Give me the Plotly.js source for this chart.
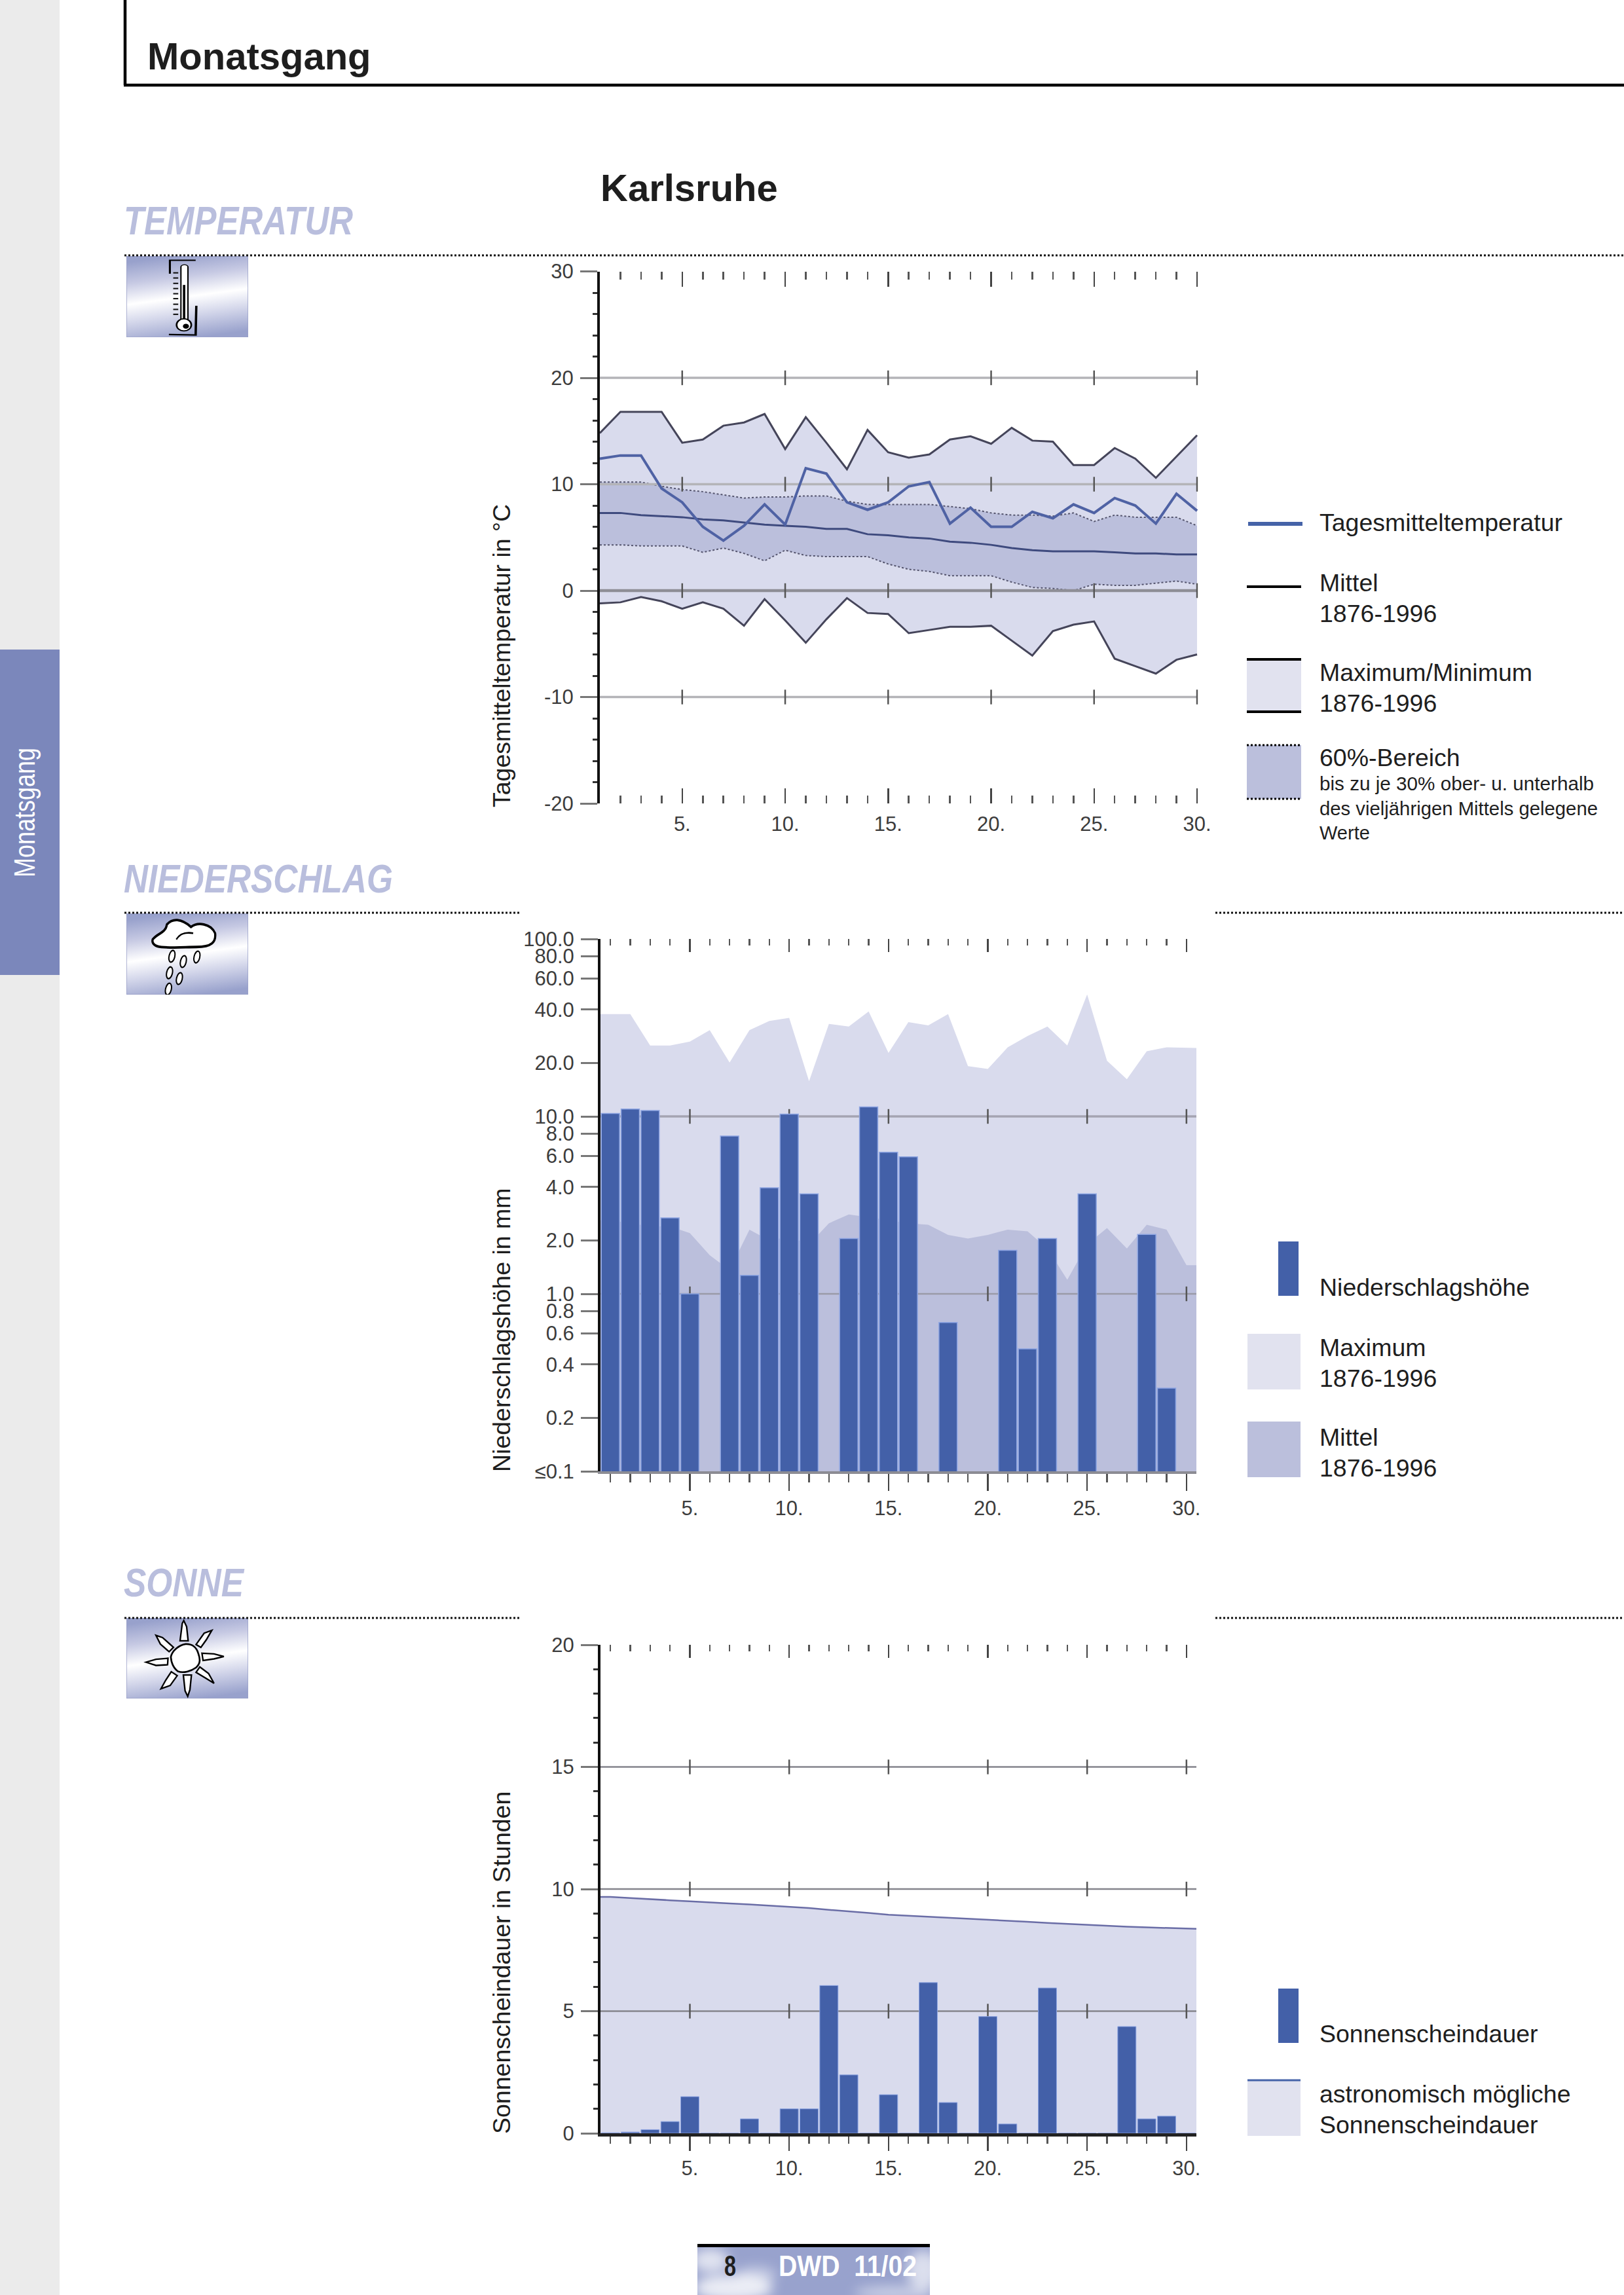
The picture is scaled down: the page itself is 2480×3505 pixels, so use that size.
<!DOCTYPE html>
<html>
<head>
<meta charset="utf-8">
<script src="https://cdn.plot.ly/plotly-3.0.1.min.js"></script>
<style>html,body{margin:0;padding:0;background:#fff}</style>
</head>
<body>
<div id="chart" style="width:2480px;height:3505px"></div>
<script>
// ---------- data ----------
const days = [1,2,3,4,5,6,7,8,9,10,11,12,13,14,15,16,17,18,19,20,21,22,23,24,25,26,27,28,29,30];

const tempDaily = [12.4,12.7,12.7,9.6,8.3,6.0,4.7,6.1,8.1,6.2,11.5,11.0,8.3,7.6,8.3,9.8,10.2,6.3,7.8,6.0,6.0,7.4,6.8,8.1,7.3,8.7,8.0,6.3,9.1,7.5];
const tempMean  = [7.3,7.3,7.1,7.0,6.9,6.7,6.6,6.4,6.2,6.1,6.0,5.8,5.8,5.3,5.2,5.0,4.9,4.6,4.5,4.3,4.0,3.8,3.7,3.7,3.7,3.6,3.5,3.5,3.4,3.4];
const tempMax   = [14.8,16.8,16.8,16.8,13.9,14.2,15.5,15.8,16.6,13.3,16.3,13.9,11.4,15.1,13.0,12.5,12.8,14.2,14.5,13.8,15.3,14.1,14.0,11.8,11.8,13.4,12.4,10.6,12.6,14.6];
const tempMin   = [-1.2,-1.1,-0.6,-1.0,-1.7,-1.1,-1.7,-3.3,-0.8,-2.8,-4.9,-2.7,-0.7,-2.1,-2.2,-4.0,-3.7,-3.4,-3.4,-3.3,-4.7,-6.1,-3.8,-3.2,-2.9,-6.4,-7.1,-7.8,-6.5,-6.0];
const tempUpper = [10.2,10.2,10.2,9.8,9.5,9.3,9.0,8.7,8.8,8.8,8.9,8.9,8.4,8.1,8.1,8.1,8.1,7.9,7.7,7.3,7.1,7.1,7.0,7.3,6.5,7.1,6.9,6.9,6.9,6.1];
const tempLower = [4.3,4.3,4.2,4.2,4.2,3.6,4.0,3.5,2.8,3.8,3.3,3.2,3.2,3.2,2.5,2.0,1.8,1.4,1.4,1.4,0.8,0.3,0.2,0.0,0.6,0.5,0.5,0.7,0.9,0.6];

const rainDaily = [10.4,11.0,10.8,2.68,1.0,null,7.75,1.27,3.96,10.3,3.66,null,2.05,11.3,6.28,5.92,null,0.69,null,null,1.76,0.49,2.05,null,3.66,null,null,2.16,0.294,null];
const rainMax   = [37.7,37.7,25.1,25.1,26.4,30.6,20.1,30.6,34.5,35.9,15.8,33.2,32.1,39,22.8,34,32.6,37.7,19.2,18.5,24.5,28.4,32.1,25.1,48.7,20.6,16.2,23.3,24.5,24.3];
const rainMean  = [2.6,2.5,2.4,2.4,2.2,1.65,1.36,2.3,2.0,2.1,1.9,2.5,2.8,2.7,2.6,2.5,2.45,2.15,2.05,2.15,2.3,2.25,1.8,1.2,1.9,2.35,1.8,2.45,2.3,1.45];

const sunDaily = [0.02,0.05,0.15,0.48,1.5,0,0,0.59,0,1.0,1.0,6.05,2.39,0,1.58,0,6.17,1.26,0,4.78,0.38,0,5.95,0,0,0,4.37,0.59,0.7,0];
const sunAstro = [9.68,9.63,9.58,9.54,9.50,9.45,9.41,9.37,9.32,9.28,9.22,9.15,9.09,9.02,8.95,8.91,8.87,8.83,8.78,8.74,8.70,8.66,8.61,8.57,8.52,8.49,8.46,8.43,8.40,8.37];

const tempTickVals = [-20,-10,0,10,20,30];
const tempTickText = ['-20','-10','0','10','20','30'];
const rainTickVals = [0.1,0.2,0.4,0.6,0.8,1,2,4,6,8,10,20,40,60,80,100];
const rainTickText = ['≤0.1','0.2','0.4','0.6','0.8','1.0','2.0','4.0','6.0','8.0','10.0','20.0','40.0','60.0','80.0','100.0'];
const sunTickVals = [0,5,10,15,20];
const gridDays = [5,10,15,20,25,30];

// ---------- helpers ----------
const W = 2480, H = 3505;
const FONT = 'Liberation Sans, Arial, sans-serif';
const BAR = '#4360a8', BARHALO = '#8ea5e2', LIGHT = '#d9dbed', MID = '#bbbfdc';
const xd = (a,b) => [a/W, b/W];
const yd = (t,b) => [1-b/H, 1-t/H];
const px = v => v/W, py = v => 1-v/H;

const edgeDays = [0.5].concat(days, [30.5]);
const edged = a => [a[0]].concat(a, [a[a.length-1]]);

// ---------- traces ----------
const data = [];
function line(x, y, xa, ya, color, width, extra) {
  data.push(Object.assign({type:'scatter', mode:'lines', x, y, xaxis:xa, yaxis:ya, hoverinfo:'skip', showlegend:false,
    line:{color, width, dash:(extra&&extra.dash)||'solid', shape:'linear'}}, extra&&extra.fill?{fill:extra.fill, fillcolor:extra.fillcolor}:{}));
}
function gridLevels(levels, xRange, xa, ya, color, width, tickColor) {
  levels.forEach(l => {
    line(xRange, xRange.map(() => l), xa, ya, color, width);
    data.push({type:'scatter', mode:'markers', x:gridDays, y:gridDays.map(() => l), xaxis:xa, yaxis:ya, hoverinfo:'skip', showlegend:false,
      marker:{symbol:'line-ns', size:16, line:{width:2.5, color:tickColor}}});
  });
}

// chart 1 – temperature
line(days, tempMin, 'x', 'y', '#45455a', 3);
line(days, tempMax, 'x', 'y', '#45455a', 3, {fill:'tonexty', fillcolor:LIGHT});
line(days, tempLower, 'x', 'y', '#55556e', 2, {dash:'dot'});
line(days, tempUpper, 'x', 'y', '#55556e', 2, {dash:'dot', fill:'tonexty', fillcolor:MID});
gridLevels([20,10,-10], [1,30], 'x', 'y', '#b4b4b8', 3.5, '#555');
gridLevels([0], [1,30], 'x', 'y', '#8e8e96', 4.5, '#555');
line(days, tempMean, 'x', 'y', '#3e4a7e', 3);
line(days, tempDaily, 'x', 'y', '#4f62a4', 4);

// chart 2 – precipitation (areas and grid in the base subplot, bars in an overlaid one)
line(edgeDays, edged(rainMax), 'x2', 'y2', 'rgba(0,0,0,0)', 0, {fill:'tozeroy', fillcolor:LIGHT});
line(edgeDays, edged(rainMean), 'x2', 'y2', 'rgba(0,0,0,0)', 0, {fill:'tozeroy', fillcolor:MID});
gridLevels([10], [0.5,30.5], 'x2', 'y2', '#a4a4b2', 3.5, '#555');
gridLevels([1], [0.5,30.5], 'x2', 'y2', '#9a9aa8', 2.5, '#555');
data.push({type:'bar', x:days, y:rainDaily, xaxis:'x5', yaxis:'y5', hoverinfo:'skip', showlegend:false,
  marker:{color:BAR, line:{color:BARHALO, width:1.5}}});

// chart 3 – sunshine
line(edgeDays, edged(sunAstro), 'x3', 'y3', '#6a6da6', 2.5, {fill:'tozeroy', fillcolor:LIGHT});
gridLevels([15,10,5], [0.5,30.5], 'x3', 'y3', '#85858c', 2.5, '#555');
data.push({type:'bar', x:days, y:sunDaily, xaxis:'x6', yaxis:'y6', hoverinfo:'skip', showlegend:false,
  marker:{color:BAR, line:{color:BARHALO, width:1}}});

// ---------- axes ----------
const tickFont = {family:FONT, size:31, color:'#3c3c3c'};
function dayAxis(domain, range, ticks, len, extra) {
  return Object.assign({domain, range, tickmode:'linear', tick0:0, dtick:5, ticks, ticklen:len, tickwidth:2.5, tickcolor:'#444',
    ticksuffix:'.', tickfont:tickFont, showgrid:false, zeroline:false, showline:false, fixedrange:true,
    minor:{dtick:1, tick0:0, ticks, ticklen:Math.round(len*0.5), tickwidth:2.5, tickcolor:'#555', showgrid:false}}, extra||{});
}
function topAxis(domain, range, overlaying, anchor) {
  return dayAxis(domain, range, 'inside', 20, {overlaying, anchor, side:'top', showticklabels:false});
}
function valueAxis(domain, extra) {
  return Object.assign({domain, tickfont:tickFont, ticks:'outside', ticklen:26, tickwidth:3, tickcolor:'#777',
    ticklabelstandoff:4, showgrid:false, zeroline:false, showline:true, linecolor:'#111', linewidth:4, fixedrange:true, layer:'above traces'}, extra);
}
// the temperature x range runs a hair past day 30 so that the day-30 ticks are kept at the edge
const dom1x = xd(916,1829.6), dom2x = xd(917,1827);
const dom1y = yd(414.5,1227), dom2y = yd(1434,2247), dom3y = yd(2512,3258);

const layout = {
  width:W, height:H, autosize:false, margin:{l:0,r:0,t:0,b:0,pad:0},
  paper_bgcolor:'#ffffff', plot_bgcolor:'rgba(0,0,0,0)', showlegend:false, barmode:'overlay', bargap:0.08,
  xaxis: dayAxis(dom1x, [1,30.05], 'inside', 23, {anchor:'y', mirror:'ticks', ticklabelstandoff:10}),
  yaxis: valueAxis(dom1y, {anchor:'x', range:[-20,30], tickmode:'array', tickvals:tempTickVals, ticktext:tempTickText,
    minor:{dtick:2, tick0:0, ticks:'outside', ticklen:7, tickwidth:3, tickcolor:'#333', showgrid:false}}),
  xaxis2: dayAxis(dom2x, [0.5,30.5], 'outside', 26, {anchor:'y2', showline:true, linecolor:'#8c8c94', linewidth:3.5}),
  yaxis2: valueAxis(dom2y, {anchor:'x2', type:'log', range:[-1,2], tickmode:'array', tickvals:rainTickVals, ticktext:rainTickText}),
  xaxis5: topAxis(dom2x, [0.5,30.5], 'x2', 'y5'),
  yaxis5: {domain:dom2y, type:'log', range:[-1,2], overlaying:'y2', anchor:'x5', visible:false, fixedrange:true},
  xaxis3: dayAxis(dom2x, [0.5,30.5], 'outside', 22, {anchor:'y3', showline:true, linecolor:'#222', linewidth:4.5}),
  yaxis3: valueAxis(dom3y, {anchor:'x3', range:[0,20], tickmode:'array', tickvals:sunTickVals, ticktext:sunTickVals.map(String),
    minor:{dtick:1, tick0:0, ticks:'outside', ticklen:7, tickwidth:3, tickcolor:'#333', showgrid:false}}),
  xaxis6: topAxis(dom2x, [0.5,30.5], 'x3', 'y6'),
  yaxis6: {domain:dom3y, range:[0,20], overlaying:'y3', anchor:'x6', visible:false, fixedrange:true},
  shapes:[], annotations:[], images:[]
};

// ---------- page furniture ----------
const fitted = {};   // annotation index -> text length in px (condensed headline type)
function rect(x0,y0,x1,y1,fill) {
  layout.shapes.push({type:'rect', xref:'paper', yref:'paper', x0:px(x0), x1:px(x1), y0:py(y0), y1:py(y1), fillcolor:fill, line:{width:0}, layer:'above'});
}
function rule(x0,y0,x1,y1,color,width,dash) {
  layout.shapes.push({type:'line', xref:'paper', yref:'paper', x0:px(x0), x1:px(x1), y0:py(y0), y1:py(y1), line:{color, width, dash:dash||'solid'}, layer:'above'});
}
function text(str, x, base, size, opt) {
  opt = opt||{};
  if (opt.len) fitted[layout.annotations.length] = opt.len;
  layout.annotations.push({xref:'paper', yref:'paper', x:px(x), y:py(base + 0.212*size), text:str, showarrow:false,
    xanchor:'left', yanchor:'bottom', align:'left', borderpad:0,
    font:{family:FONT, size, color:opt.color||'#1e1e1e', weight:opt.weight||'normal', style:opt.style||'normal'}});
}
function vtext(str, xc, yc, size, opt) {
  opt = opt||{};
  if (opt.len) fitted[layout.annotations.length] = opt.len;
  layout.annotations.push({xref:'paper', yref:'paper', x:px(xc), y:py(yc), text:str, showarrow:false, textangle:-90,
    xanchor:'center', yanchor:'middle', borderpad:0, font:{family:FONT, size, color:opt.color||'#1e1e1e'}});
}
function svgImage(svg, x0,y0,x1,y1) {
  layout.images.push({source:'data:image/svg+xml;charset=utf-8,'+encodeURIComponent(svg), xref:'paper', yref:'paper',
    x:px(x0), y:py(y0), sizex:(x1-x0)/W, sizey:(y1-y0)/H, xanchor:'left', yanchor:'top', sizing:'stretch', layer:'above'});
}

// strip and tab
rect(0,0,91,H,'#ebebeb');
rect(0,992,91,1489,'#7b87bb');
vtext('Monatsgang', 38, 1241, 44, {color:'#ffffff', len:198});

// header frame
rule(191,0,191,130,'#000',4.5);
rule(189,130,W,130,'#000',4.5);
text('Monatsgang', 224, 107, 58, {weight:'bold'});
text('Karlsruhe', 916, 308, 58, {weight:'bold'});

// section headers
const HEAD = '#b9bedd';
text('TEMPERATUR', 188, 359, 62, {weight:'bold', style:'italic', color:HEAD, len:350});
text('NIEDERSCHLAG', 188, 1364, 62, {weight:'bold', style:'italic', color:HEAD, len:411});
text('SONNE', 188, 2439, 62, {weight:'bold', style:'italic', color:HEAD, len:183});
rule(190,390,W,390,'#111',3,'dot');
rule(190,1394,793,1394,'#111',3,'dot');
rule(1856,1394,W,1394,'#111',3,'dot');
rule(190,2471,793,2471,'#111',3,'dot');
rule(1856,2471,W,2471,'#111',3,'dot');

// axis captions
vtext('Tagesmitteltemperatur in °C', 766, 1002, 37.5);
vtext('Niederschlagshöhe in mm', 766, 2031, 37.5);
vtext('Sonnenscheindauer in Stunden', 766, 2998, 37.5);

// icons
const grad = '<defs><linearGradient id="g" x1="0.4" y1="0" x2="0.6" y2="1"><stop offset="0" stop-color="#98a1cc"/><stop offset="0.25" stop-color="#c6c9e3"/><stop offset="0.5" stop-color="#ffffff"/><stop offset="0.72" stop-color="#d3d6ea"/><stop offset="1" stop-color="#98a1cc"/></linearGradient></defs>';
function icon(vb, body) {
  const v = vb.split(' ').map(Number);
  return '<svg xmlns="http://www.w3.org/2000/svg" width="186" height="125" viewBox="'+vb+'" preserveAspectRatio="none">'+grad+
    '<rect x="'+v[0]+'" y="'+v[1]+'" width="'+v[2]+'" height="'+v[3]+'" fill="url(#g)" stroke="#9aa0c8" stroke-width="'+(v[2]/186*1.5)+'"/>'+body+'</svg>';
}
const thermo = '<path d="M585 1152L508 1152L508 1212" fill="none" stroke="#000" stroke-width="6"/><path d="M587 1355L585 1485L505 1483" fill="none" stroke="#000" stroke-width="7"/>'+
  '<rect x="541" y="1172" width="21" height="255" rx="10" fill="#fff" stroke="#000" stroke-width="4"/><rect x="547" y="1262" width="7" height="160" fill="#000"/>'+
  '<ellipse cx="550" cy="1440" rx="22" ry="27" fill="#fff" stroke="#000" stroke-width="5"/><ellipse cx="556" cy="1446" rx="9" ry="11" fill="#000"/>'+
  [1205,1228,1252,1275,1298,1320,1345,1368,1390].map(y => '<rect x="518" y="'+y+'" width="15" height="6" fill="#111"/>').join('');
svgImage(icon('378 1133 364 362', thermo), 193,391,379,515);
const cloud = '<path d="M700 1240C720 1215 760 1215 765 1180C790 1155 830 1155 875 1190C905 1170 965 1175 985 1215C990 1250 970 1270 900 1270C850 1270 800 1275 740 1270C710 1268 695 1255 700 1240Z" fill="#fff" stroke="#000" stroke-width="10"/>'+
  '<path d="M808 1240C825 1215 850 1210 885 1215" fill="none" stroke="#000" stroke-width="7"/>'+
  [[788,1307],[840,1328],[902,1310],[777,1373],[822,1396],[772,1438]].map(p => '<ellipse cx="'+p[0]+'" cy="'+p[1]+'" rx="13" ry="24" transform="rotate(16 '+p[0]+' '+p[1]+')" fill="#fff" stroke="#000" stroke-width="6"/>').join('');
svgImage(icon('580 1136 556 324', cloud), 193,1395,379,1519);
const sun = '<path d="M310 180C340 178 360 195 368 222C378 250 378 270 358 288C335 305 300 315 275 305C255 290 245 265 243 240C248 210 280 185 310 180Z" fill="#fff" stroke="#000" stroke-width="8"/>'+
  ['M285 165L295 85L302 72L315 100L322 165Z','M358 182L395 130L430 117L405 160L380 195Z','M385 222L440 225L485 237L440 248L390 255Z','M375 285L415 315L440 360L400 335L358 310Z',
   'M300 322L337 322L330 390L320 420L308 395Z','M245 307L272 325L240 370L198 385L220 345Z','M230 245L228 275L175 278L130 263L175 250Z','M255 195L235 215L195 180L175 140L205 150Z']
   .map(d => '<path d="'+d+'" fill="#fff" stroke="#000" stroke-width="7"/>').join('');
svgImage(icon('40 60 556 370', sun), 193,2471,379,2594);

// legend 1
const LX = 2014, LS = 37.5;
rule(1906,800,1989,800,'#4563a8',6);
text('Tagesmitteltemperatur', LX, 812, LS);
rule(1904,896,1987,896,'#000',4);
text('Mittel', LX, 904, LS);
text('1876-1996', LX, 951, LS);
rect(1904,1007,1987,1087,'#e1e2ef');
rule(1904,1007,1987,1007,'#000',4);
rule(1904,1087,1987,1087,'#000',4);
text('Maximum/Minimum', LX, 1041, LS);
text('1876-1996', LX, 1088, LS);
rect(1904,1138,1987,1220,MID);
rule(1904,1138,1987,1138,'#000',3,'dot');
rule(1904,1220,1987,1220,'#000',3,'dot');
text('60%-Bereich', LX, 1171, LS);
text('bis zu je 30% ober- u. unterhalb', LX, 1208, 29, {len:419});
text('des vieljährigen Mittels gelegene', LX, 1246, 29, {len:425});
text('Werte', LX, 1283, 29);

// legend 2
rect(1952,1896,1983,1979,BAR);
text('Niederschlagshöhe', LX, 1980, LS);
rect(1905,2037,1986,2122,'#e1e2ef');
text('Maximum', LX, 2072, LS);
text('1876-1996', LX, 2119, LS);
rect(1905,2171,1986,2256,MID);
text('Mittel', LX, 2209, LS);
text('1876-1996', LX, 2256, LS);

// legend 3
rect(1952,3037,1983,3120,BAR);
text('Sonnenscheindauer', LX, 3120, LS);
rect(1905,3177,1986,3262,'#e1e2ef');
rule(1905,3177,1986,3177,'#4563a8',3);
text('astronomisch mögliche', LX, 3212, LS);
text('Sonnenscheindauer', LX, 3259, LS);

// footer
const foot = '<svg xmlns="http://www.w3.org/2000/svg" width="355" height="73" viewBox="0 0 355 73"><defs><filter id="b"><feGaussianBlur stdDeviation="9"/></filter></defs>'+
  '<rect width="355" height="73" fill="#98a2cd"/><g filter="url(#b)" fill="#fff"><ellipse cx="20" cy="20" rx="28" ry="18" opacity="0.7"/><ellipse cx="55" cy="62" rx="60" ry="20" opacity="0.8"/>'+
  '<ellipse cx="90" cy="42" rx="30" ry="12" opacity="0.45"/><ellipse cx="345" cy="35" rx="25" ry="30" opacity="0.65"/><ellipse cx="300" cy="70" rx="60" ry="10" opacity="0.5"/></g></svg>';
svgImage(foot, 1065,3432,1420,3505);
rule(1065,3429.5,1420,3429.5,'#000',5);
text('8', 1105, 3477, 45, {weight:'bold', len:18});
text('DWD&#160;&#160;11/02', 1188, 3477, 45, {weight:'bold', color:'#ffffff', len:211});

Plotly.newPlot('chart', data, layout, {staticPlot:true, displayModeBar:false}).then(() => {
  document.querySelectorAll('#chart .annotation').forEach(a => {
    const len = fitted[a.getAttribute('data-index')];
    const t = a.querySelector('text');
    if (len && t) { t.setAttribute('textLength', len); t.setAttribute('lengthAdjust', 'spacingAndGlyphs'); }
  });
});
</script>
</body>
</html>
